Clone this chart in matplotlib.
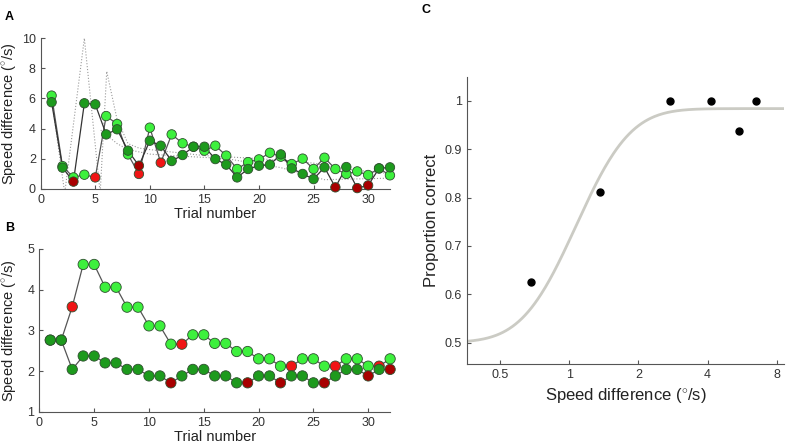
import math
import numpy as np
import matplotlib
matplotlib.use('Agg')
import matplotlib.pyplot as plt

plt.rcParams['font.family'] = ['Liberation Sans', 'DejaVu Sans']
plt.rcParams['mathtext.fontset'] = 'custom'
plt.rcParams['mathtext.rm'] = 'Liberation Sans'

######## data ######

trials = np.arange(1, 33)

# panel A - two interleaved staircases (values in deg/s)
a_light = [6.19, 1.50, 0.75, 0.93, 0.75, 4.83, 4.30, 2.28, 0.98, 4.06, 1.73, 3.61, 3.02, 2.79, 2.53, 2.86,
           2.20, 1.31, 1.77, 1.95, 2.39, 2.13, 1.64, 2.00, 1.31, 2.06, 1.31, 0.98, 1.15, 0.91, 1.35, 0.89]
a_dark = [5.75, 1.40, 0.47, 5.68, 5.61, 3.61, 3.95, 2.53, 1.53, 3.19, 2.86, 1.84, 2.24, 2.79, 2.79, 1.97,
          1.60, 0.75, 1.31, 1.53, 1.60, 2.28, 1.35, 0.98, 0.64, 1.42, 0.09, 1.44, 0.04, 0.22, 1.35, 1.42]
a_light_wrong = [5, 9, 11]
a_dark_wrong = [3, 9, 27, 29, 30]

# dotted lines in panel A (staircase estimates)
est1_x = [1, 2.2, 4, 5.45, 6.05, 7, 8, 9, 10, 15, 20, 25, 28, 32]
est1_y = [6.0, -0.3, 10.0, -0.3, 7.8, 4.6, 3.0, 2.7, 2.6, 2.2, 2.0, 1.7, 1.3, 1.0]
est2_x = [5.5, 7, 8, 10, 12, 17, 22, 26, 32]
est2_y = [3.9, 3.0, 2.6, 2.3, 2.2, 2.0, 1.4, 0.6, 0.7]

# panel B - two staircases
b_light = [2.76, 2.76, 3.58, 4.62, 4.62, 4.06, 4.06, 3.57, 3.57, 3.11, 3.11, 2.66, 2.66, 2.89, 2.89, 2.68,
           2.68, 2.48, 2.48, 2.30, 2.30, 2.12, 2.12, 2.30, 2.30, 2.12, 2.12, 2.30, 2.30, 2.12, 2.12, 2.30]
b_dark = [2.76, 2.76, 2.04, 2.37, 2.37, 2.20, 2.20, 2.04, 2.04, 1.88, 1.88, 1.71, 1.88, 2.04, 2.04, 1.88,
          1.88, 1.71, 1.71, 1.88, 1.88, 1.71, 1.88, 1.88, 1.71, 1.71, 1.88, 2.04, 2.04, 1.88, 2.04, 2.04]
b_light_wrong = [3, 13, 23, 27, 31]
b_dark_wrong = [12, 19, 22, 26, 30, 32]

# panel C - psychometric data and fit
c_speed = [0.68, 1.36, 2.74, 4.12, 5.47, 6.49]
c_prop = [0.625, 0.8125, 1.0, 1.0, 0.9375, 1.0]
fit_mu = 0.1      # log2 threshold
fit_sigma = 0.62
fit_lapse = 0.016

LIGHT = '#3df03d'
DARK = '#1d9a1d'
RED = '#f01515'
DRED = '#a80000'


def style_axes(ax, size=9):
    '''MATLAB-ish look: left/bottom spines, inward ticks'''
    for s in ['top', 'right']:
        ax.spines[s].set_visible(False)
    for s in ['left', 'bottom']:
        ax.spines[s].set_color('#555555')
        ax.spines[s].set_linewidth(0.8)
    ax.tick_params(direction='in', length=3, width=0.8, color='#555555', labelcolor='#333333', labelsize=size)


def staircase(ax, y, wrong, good_col, bad_col, line_col, ms):
    cols = [bad_col if t in wrong else good_col for t in trials]
    ax.plot(trials, y, '-', color=line_col, lw=0.9, zorder=2, clip_on=False)
    ax.scatter(trials, y, s=ms, c=cols, edgecolors='#2f4f2f', linewidths=0.6, zorder=3, clip_on=False)


fig = plt.figure(figsize=(7.87, 4.48), dpi=100)

######## panel A ######
axA = fig.add_axes([0.0517, 0.5788, 0.4438, 0.3357])
axA.plot(est1_x, est1_y, ':', color='#9a9a9a', lw=0.8, zorder=1)
axA.plot(est2_x, est2_y, ':', color='#9a9a9a', lw=0.8, zorder=1)
staircase(axA, a_light, a_light_wrong, LIGHT, RED, '#555555', 46)
staircase(axA, a_dark, a_dark_wrong, DARK, DRED, '#333333', 46)
axA.set_xlim(0, 32)
axA.set_ylim(0, 10)
axA.set_xticks([0, 5, 10, 15, 20, 25, 30])
axA.set_yticks([0, 2, 4, 6, 8, 10])
style_axes(axA)
axA.set_xlabel('Trial number', fontsize=10.5, color='#222222', labelpad=1)
axA.set_ylabel(r'Speed difference ($^{\circ}$/s)', fontsize=10.5, color='#222222', labelpad=2)

######## panel B ######
axB = fig.add_axes([0.05, 0.081, 0.4457, 0.3632])
staircase(axB, b_light, b_light_wrong, LIGHT, RED, '#555555', 55)
staircase(axB, b_dark, b_dark_wrong, DARK, DRED, '#555555', 55)
axB.set_xlim(0, 32)
axB.set_ylim(1, 5)
axB.set_xticks([0, 5, 10, 15, 20, 25, 30])
axB.set_yticks([1, 2, 3, 4, 5])
style_axes(axB)
axB.set_xlabel('Trial number', fontsize=10.5, color='#222222', labelpad=1)
axB.set_ylabel(r'Speed difference ($^{\circ}$/s)', fontsize=10.5, color='#222222', labelpad=6)

######## panel C ######
axC = fig.add_axes([0.593, 0.1868, 0.4036, 0.642])
xs = np.logspace(np.log10(0.358), np.log10(8.63), 300)
z = (np.log2(xs) - fit_mu) / fit_sigma
phi = np.array([0.5 * (1 + math.erf(v / math.sqrt(2))) for v in z])
axC.plot(xs, 0.5 + (0.5 - fit_lapse) * phi, color='#cbcbc4', lw=2, zorder=1)
axC.plot(c_speed, c_prop, 'o', color='black', ms=5, zorder=2)
axC.set_xscale('log')
axC.set_xlim(0.358, 8.63)
axC.set_ylim(0.455, 1.05)
axC.set_xticks([0.5, 1, 2, 4, 8])
axC.set_xticklabels(['0.5', '1', '2', '4', '8'])
axC.minorticks_off()
axC.set_yticks([0.5, 0.6, 0.7, 0.8, 0.9, 1.0])
axC.set_yticklabels(['0.5', '0.6', '0.7', '0.8', '0.9', '1'])
style_axes(axC, 9)
axC.set_xlabel(r'Speed difference ($^{\circ}$/s)', fontsize=12, color='#222222', labelpad=4)
axC.set_ylabel('Proportion correct', fontsize=12, color='#222222', labelpad=4)

# panel letters
fig.text(0.006, 0.975, 'A', fontsize=9, fontweight='bold', va='top')
fig.text(0.006, 0.505, 'B', fontsize=9, fontweight='bold', va='top')
fig.text(0.535, 0.99, 'C', fontsize=9, fontweight='bold', va='top')

fig.savefig('out.png', dpi=100)
